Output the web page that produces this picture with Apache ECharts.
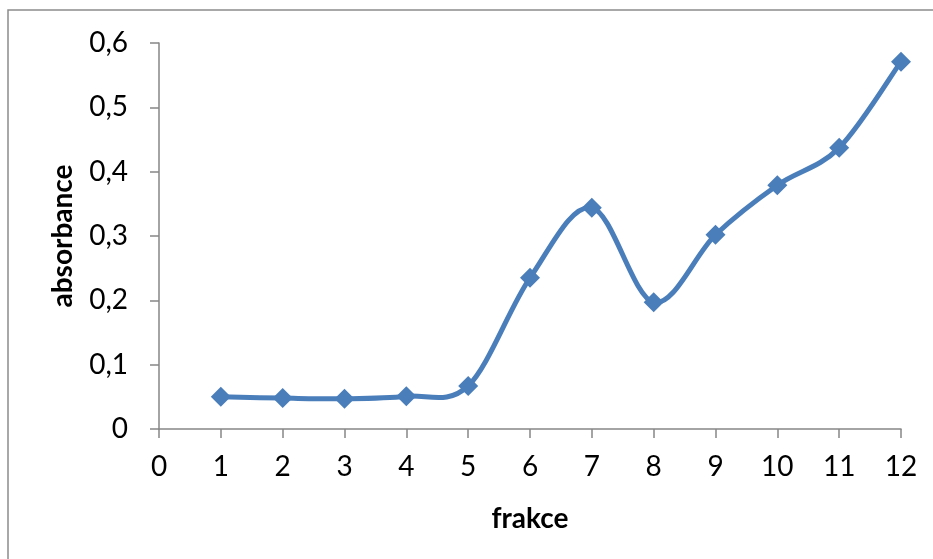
<!DOCTYPE html>
<html>
<head>
<meta charset="utf-8">
<script src="https://cdn.jsdelivr.net/npm/echarts@6/dist/echarts.min.js"></script>
<style>
html,body{margin:0;padding:0;background:#fff;}
#c{width:933px;height:559px;}
</style>
</head>
<body>
<div id="c"></div>
<script>
const fractions = [1, 2, 3, 4, 5, 6, 7, 8, 9, 10, 11, 12];
const absorbance = [0.050, 0.048, 0.047, 0.051, 0.067, 0.235, 0.344, 0.197, 0.302, 0.379, 0.437, 0.571];
const xTitle = 'frakce';
const yTitle = 'absorbance';

const chart = echarts.init(document.getElementById('c'), null, {renderer: 'canvas'});
const font = 'Lato, "Open Sans", sans-serif';
const axisGray = '#868686';
const blue = '#4a7ebb';
const pairs = fractions.map((f, i) => [f, absorbance[i]]);

// smooth curve (Catmull-Rom style, like Excel's smoothed line) drawn segment by segment
function renderSegment(params, api) {
  const i = params.dataIndex;
  const n = pairs.length;
  if (i >= n - 1) return null;
  const P = k => api.coord(pairs[Math.max(0, Math.min(n - 1, k))]);
  const p0 = P(i - 1), p1 = P(i), p2 = P(i + 1), p3 = P(i + 2);
  const t = 1 / 6;
  return {
    type: 'bezierCurve',
    shape: {
      x1: p1[0], y1: p1[1], x2: p2[0], y2: p2[1],
      cpx1: p1[0] + (p2[0] - p0[0]) * t, cpy1: p1[1] + (p2[1] - p0[1]) * t,
      cpx2: p2[0] - (p3[0] - p1[0]) * t, cpy2: p2[1] - (p3[1] - p1[1]) * t
    },
    style: {fill: null, stroke: blue, lineWidth: 5, lineCap: 'round'}
  };
}

chart.setOption({
  animation: false,
  backgroundColor: '#fff',
  graphic: [{
    type: 'rect',
    shape: {x: 8, y: 10, width: 1200, height: 1200},
    style: {fill: 'none', stroke: '#8c8c8c', lineWidth: 1.5},
    silent: true, z: -1
  }],
  grid: {left: 159, right: 32, top: 43, bottom: 130, containLabel: false},
  xAxis: {
    type: 'value', min: 0, max: 12, interval: 1,
    name: xTitle, nameLocation: 'middle', nameGap: 76,
    nameTextStyle: {fontFamily: font, fontSize: 28, fontWeight: 'bold', color: '#000'},
    axisLine: {show: true, onZero: false, lineStyle: {color: axisGray, width: 1.5}},
    axisTick: {show: true, inside: false, length: 9, lineStyle: {color: axisGray, width: 1.5}},
    axisLabel: {fontFamily: font, fontSize: 28, color: '#000', margin: 24},
    splitLine: {show: false}
  },
  yAxis: {
    type: 'value', min: 0, max: 0.6, interval: 0.1,
    name: yTitle, nameLocation: 'middle', nameGap: 82, nameRotate: 90,
    nameTextStyle: {fontFamily: font, fontSize: 28, fontWeight: 'bold', color: '#000'},
    axisLine: {show: true, lineStyle: {color: axisGray, width: 1.5}},
    axisTick: {show: true, inside: false, length: 9, lineStyle: {color: axisGray, width: 1.5}},
    axisLabel: {fontFamily: font, fontSize: 28, color: '#000', margin: 31,
      formatter: v => (Math.round(v * 10) / 10).toString().replace('.', ',')},
    splitLine: {show: false}
  },
  series: [{
    type: 'custom',
    data: pairs,
    renderItem: renderSegment,
    encode: {x: 0, y: 1},
    clip: false,
    z: 2,
    silent: true
  }, {
    type: 'scatter',
    data: pairs,
    symbol: 'diamond',
    symbolSize: 20,
    itemStyle: {color: blue, opacity: 1},
    z: 3
  }]
});
</script>
</body>
</html>
